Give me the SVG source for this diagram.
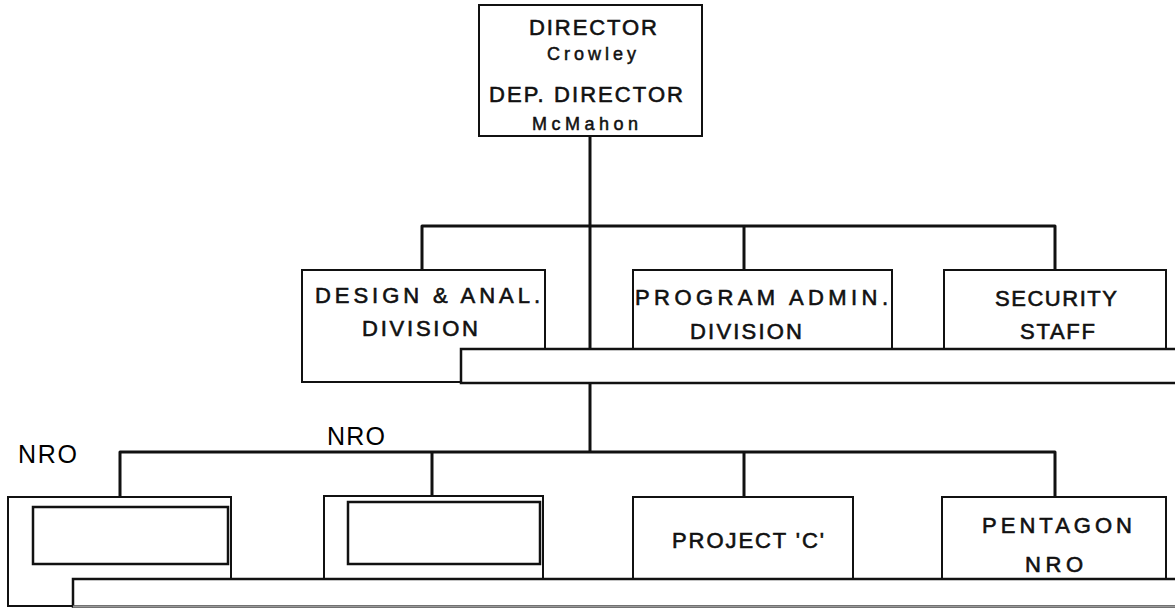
<svg xmlns="http://www.w3.org/2000/svg" width="1175" height="608" viewBox="0 0 1175 608">
  <style>
    .box { fill: #fff; stroke: #111; stroke-width: 2; }
    .inner { fill: #fff; stroke: #111; stroke-width: 2.5; }
    .bar { fill: #fff; stroke: #111; stroke-width: 2.5; }
    .link { fill: none; stroke: #111; stroke-width: 3; stroke-linejoin: round; }
    .lbl { font-family: "Liberation Sans", Arial, sans-serif; font-size: 22px; fill: #111; stroke: #111; stroke-width: 0.6; }
    .name { font-family: "Liberation Sans", Arial, sans-serif; font-size: 18px; fill: #111; stroke: #111; stroke-width: 0.5; }
    .tag { font-family: "Liberation Sans", Arial, sans-serif; font-size: 25px; fill: #000; }
  </style>
  <rect x="0" y="0" width="1175" height="608" fill="#fff"/>

  <!-- connectors -->
  <g id="connectors">
    <path class="link" d="M590,136 V349"/>
    <path class="link" d="M422,270 V226 H1055 V270"/>
    <path class="link" d="M744,226 V270"/>
    <path class="link" d="M590,383 V452"/>
    <path class="link" d="M120,497 V452 H1055 V497"/>
    <path class="link" d="M432,452 V496"/>
    <path class="link" d="M744,452 V497"/>
  </g>

  <!-- top: director -->
  <g id="director">
    <rect class="box" x="479" y="5" width="223" height="131"/>
    <text class="lbl" x="529" y="35" textLength="128" lengthAdjust="spacing">DIRECTOR</text>
    <text class="name" x="547" y="60" textLength="89" lengthAdjust="spacing">Crowley</text>
    <text class="lbl" x="489" y="102" textLength="194" lengthAdjust="spacing">DEP. DIRECTOR</text>
    <text class="name" x="532" y="130" textLength="106" lengthAdjust="spacing">McMahon</text>
  </g>

  <!-- second tier -->
  <g id="design-anal">
    <rect class="box" x="302" y="270" width="243" height="112"/>
    <text class="lbl" x="315" y="303" textLength="225" lengthAdjust="spacing">DESIGN &amp; ANAL.</text>
    <text class="lbl" x="362" y="336" textLength="116" lengthAdjust="spacing">DIVISION</text>
  </g>
  <g id="program-admin">
    <rect class="box" x="633" y="270" width="259" height="90"/>
    <text class="lbl" x="635" y="305" textLength="253" lengthAdjust="spacing">PROGRAM ADMIN.</text>
    <text class="lbl" x="690" y="339" textLength="112" lengthAdjust="spacing">DIVISION</text>
  </g>
  <g id="security">
    <rect class="box" x="944" y="270" width="222" height="90"/>
    <text class="lbl" x="995" y="306" textLength="122" lengthAdjust="spacing">SECURITY</text>
    <text class="lbl" x="1020" y="339" textLength="75" lengthAdjust="spacing">STAFF</text>
  </g>
  <g id="tier2-base">
    <rect class="bar" x="461" y="349" width="720" height="34"/>
  </g>

  <!-- third tier -->
  <g id="nro-left">
    <rect class="box" x="8" y="497" width="223" height="109"/>
    <rect class="inner" x="33" y="507" width="195" height="57"/>
    <text class="tag" x="18" y="463" textLength="59" lengthAdjust="spacing">NRO</text>
  </g>
  <g id="nro-mid">
    <rect class="box" x="324" y="496" width="219" height="90"/>
    <rect class="inner" x="348" y="502" width="192" height="62"/>
    <text class="tag" x="327" y="445" textLength="58" lengthAdjust="spacing">NRO</text>
  </g>
  <g id="project-c">
    <rect class="box" x="633" y="497" width="220" height="90"/>
    <text class="lbl" x="672" y="548" textLength="152" lengthAdjust="spacing">PROJECT 'C'</text>
  </g>
  <g id="pentagon-nro">
    <rect class="box" x="942" y="497" width="224" height="90"/>
    <text class="lbl" x="982" y="533" textLength="150" lengthAdjust="spacing">PENTAGON</text>
    <text class="lbl" x="1025" y="572" textLength="58" lengthAdjust="spacing">NRO</text>
  </g>
  <g id="tier3-base">
    <path class="bar" d="M1181,579 H73 V606.5 H1181" stroke="#111"/>
    <path d="M73,606.5 H1181" stroke="#999" stroke-width="2" fill="none"/>
  </g>
</svg>
